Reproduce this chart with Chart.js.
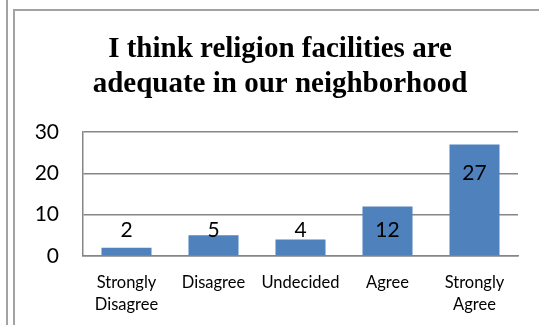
<!DOCTYPE html>
<html>
<head>
<meta charset="utf-8">
<script src="https://cdn.jsdelivr.net/npm/chart.js@4.4.1/dist/chart.umd.min.js"></script>
<style>
  html, body { margin: 0; padding: 0; background: #fff; }
  body { width: 539px; height: 325px; position: relative; overflow: hidden; }
  .rule-outer { position: absolute; left: 6px; top: 0; width: 0; height: 325px; border-left: 2px solid #a3a3a3; }
  .frame { position: absolute; left: 13px; top: 9px; width: 540px; height: 330px; border-left: 2px solid #a3a3a3; border-top: 2px solid #a3a3a3; }
  #chart { position: absolute; left: 0; top: 0; }
</style>
</head>
<body>
<div class="rule-outer"></div>
<div class="frame"></div>
<canvas id="chart" width="539" height="325"></canvas>
<script>
// Survey responses to the neighborhood religion-facilities statement
const categories = [["Strongly", "Disagree"], "Disagree", "Undecided", "Agree", ["Strongly", "Agree"]];
const responses = [2, 5, 4, 12, 27];
const yTicks = [0, 10, 20, 30];
const titleLines = ["I think religion facilities are", "adequate in our neighborhood"];

const labelFont = '"Lato", "Open Sans", sans-serif';

// Two-line bold serif heading, centred over the framed panel
const panelTitle = {
  id: 'panelTitle',
  afterDraw(chart, args, opts) {
    const ctx = chart.ctx;
    ctx.save();
    ctx.font = 'bold 29px "Liberation Serif", "Times New Roman", serif';
    ctx.fillStyle = '#000';
    ctx.textAlign = 'center';
    ctx.textBaseline = 'alphabetic';
    titleLines.forEach((line, i) => ctx.fillText(line, opts.x, opts.baseline + i * opts.lineGap));
    ctx.restore();
  }
};

// Writes each bar's count near the top of the bar, kept clear of the baseline
const barValueLabels = {
  id: 'barValueLabels',
  afterDatasetsDraw(chart) {
    const ctx = chart.ctx;
    const meta = chart.getDatasetMeta(0);
    ctx.save();
    ctx.font = '21px ' + labelFont;
    ctx.fillStyle = '#000';
    ctx.textAlign = 'center';
    ctx.textBaseline = 'middle';
    meta.data.forEach((bar, i) => {
      const y = Math.min(bar.y + 29, bar.base - 25);
      ctx.fillText(String(responses[i]), bar.x, y);
    });
    ctx.restore();
  }
};

new Chart(document.getElementById('chart'), {
  type: 'bar',
  data: {
    labels: categories,
    datasets: [{
      data: responses,
      backgroundColor: '#4f81bd',
      borderWidth: 0,
      barPercentage: 0.575,
      categoryPercentage: 1
    }]
  },
  options: {
    responsive: false,
    animation: false,
    layout: { padding: { left: 0, right: 21, top: 132, bottom: 0 } },
    plugins: {
      legend: { display: false },
      tooltip: { enabled: false },
      title: { display: false },
      panelTitle: { x: 280, baseline: 57, lineGap: 35 }
    },
    scales: {
      x: {
        grid: { display: false, drawTicks: false },
        border: { display: true, color: '#868686', width: 1.5 },
        ticks: {
          color: '#000',
          padding: 16,
          maxRotation: 0,
          autoSkip: false,
          font: { family: labelFont, size: 16.5, lineHeight: 1.3 }
        },
        afterFit(scale) { scale.height = 69; }
      },
      y: {
        min: 0,
        max: 30,
        afterBuildTicks(scale) { scale.ticks = yTicks.map(v => ({ value: v })); },
        grid: { color: '#868686', lineWidth: 1.5, drawTicks: false },
        border: { display: true, color: '#868686', width: 1.5 },
        ticks: {
          color: '#000',
          padding: 24,
          font: { family: labelFont, size: 21 }
        },
        afterFit(scale) { scale.width = 83; }
      }
    }
  },
  plugins: [panelTitle, barValueLabels]
});
</script>
</body>
</html>
